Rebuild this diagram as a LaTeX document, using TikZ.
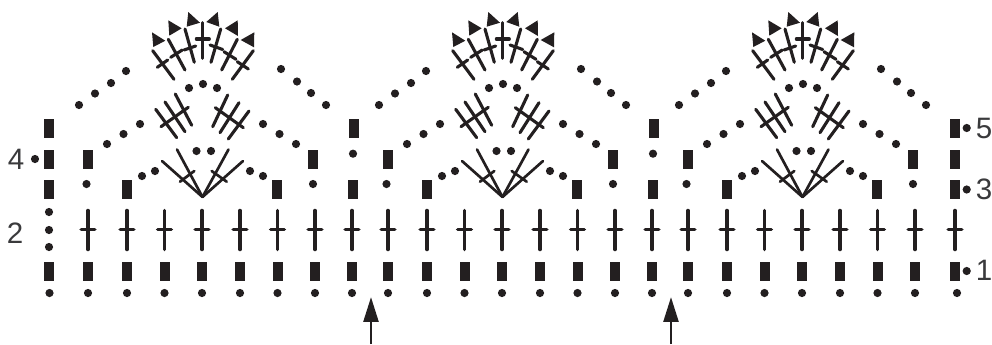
\documentclass[tikz,border=0pt]{standalone}
\usepackage{fontspec}
\setmainfont{Liberation Sans}
\usetikzlibrary{arrows.meta}
\definecolor{ink}{HTML}{231F20}
\definecolor{numgray}{HTML}{3A3A3C}

\begin{document}
\begin{tikzpicture}[x=0.025cm,y=-0.025cm,
      chdot/.style={fill=ink},
      post/.style={draw=ink,line width=2.5pt,line cap=round},
      fanline/.style={draw=ink,line width=2.2pt,line cap=round},
      thinfan/.style={draw=ink,line width=1.9pt,line cap=round},
      rownum/.style={font=\fontsize{21}{23}\selectfont,text=numgray,inner sep=0pt}]
    % pixel coordinates of the scan, y runs downwards
    \useasboundingbox (0,0) rectangle (992,344);

    % repeated motif, columns 1 to 7 of each pattern repeat
    \foreach \r in {0,300,600} {
      \begin{scope}[shift={(\r,0)}]
        % foundation chain + first row of bars
        \foreach \x in {88,127,164.5,202,240,277.5,315} {
          \fill[chdot] (\x,293) circle (4.1);
          \fill[ink] (\x-5,262) rectangle (\x+5,281);
          % row 2
          \draw[post] (\x,210.5) -- (\x,249.5);
          \draw[post] (\x-6.8,229.6) -- (\x+6.8,229.6);
        }
        % bars and single chains at the flanks
        \foreach \x/\y in {127/180,277/180,88/150,313/150} \fill[ink] (\x-5,\y) rectangle (\x+5,\y+19);
        \foreach \x/\y in {86.5/184,313/184} \fill[chdot] (\x,\y) circle (4.1);

        % chain loops, rows 3 to 5
        \foreach \x/\y in {142/176,155/171,250/171,263/176,196.5/151,211/151} \fill[chdot] (\x,\y) circle (4.1);
        \foreach \x/\y in {107/144,123.5/134,140/124,263/124,279.5/134,296/144,189/88,203/84,217/88} \fill[chdot] (\x,\y) circle (4.1);
        \foreach \x/\y in {79/105,95/93.5,111/83,126/71,281/69,297/81.5,311/93,326/105} \fill[chdot] (\x,\y) circle (4.1);

        % row 3 fan
        \foreach \x/\y in {162/161,177/149.5,228.5/149.5,243/161} \draw[thinfan] (202.5,197) -- (\x,\y);
        \draw[thinfan] (180,181.7) -- (194.3,171);
        \draw[thinfan] (211.7,171) -- (226.7,181.7);

        % row 4 clusters
        \draw[fanline] (155.7,109.3) -- (176.7,137.7);
        \draw[fanline] (165,102) -- (185,131.7);
        \draw[fanline] (175.3,94) -- (191.7,125.3);
        \draw[fanline] (161,126.7) -- (188.3,107.3);
        \draw[fanline] (227.7,95) -- (212.7,126.7);
        \draw[fanline] (239,102.7) -- (220,132.7);
        \draw[fanline] (249,111) -- (228.3,139);
        \draw[fanline] (215.3,107.7) -- (243.3,127.7);

        % row 5 shell: post, then its tick
        \foreach \xa/\ya/\xb/\yb/\xc/\yc/\xd/\yd in {
            152.7/50.7/174/79.3/157.3/67.3/167.7/60,
            168.3/39.3/185/70/170.7/57.3/182.3/50,
            185/29/194.3/62.3/184/50/195.7/46,
            202.7/22.7/202.7/58.3/196.3/39/209.3/39,
            220.7/29/211/62.3/210/45/222.7/49.5,
            237.3/39.3/221.7/70/224/51.7/236/59.3,
            253.3/50.7/232.3/79.3/237.3/61.7/248.3/69} {
          \draw[fanline] (\xa,\ya) -- (\xb,\yb);
          \draw[fanline] (\xc,\yc) -- (\xd,\yd);
        }

        % picots on top
        \fill[ink] (152,32.3) -- (165.3,40.7) -- (153.3,47) -- cycle;
        \fill[ink] (168.3,20.3) -- (181.7,28.3) -- (169.3,35.7) -- cycle;
        \fill[ink] (188.3,12) -- (200,22.7) -- (186.7,26.7) -- cycle;
        \fill[ink] (217.7,12) -- (219.3,26.7) -- (206.3,22) -- cycle;
        \fill[ink] (237.7,20.3) -- (238,36) -- (225,28.3) -- cycle;
        \fill[ink] (254.3,32.3) -- (254,47.3) -- (240.7,40) -- cycle;
      \end{scope}
    }

    % edge columns between the repeats
    \foreach \x in {352,652} {
      \fill[chdot] (\x,293) circle (4.1);
      \fill[ink] (\x-5,262) rectangle (\x+5,281);
      \draw[post] (\x,210.5) -- (\x,249.5);
      \draw[post] (\x-6.8,229.6) -- (\x+6.8,229.6);
      \fill[ink] (\x-4.5,180) rectangle (\x+5.5,199);
      \fill[chdot] (\x+1,153.7) circle (4.1);
      \fill[ink] (\x-3.5,119) rectangle (\x+6.5,138);
    }

    % first column
    \fill[chdot] (49.5,293) circle (4.1);
    \foreach \y in {119,150,180,262} \fill[ink] (44,\y) rectangle (54,\y+19);
    \foreach \y in {212,230,247} \fill[chdot] (49,\y) circle (4.1);

    % last column
    \fill[chdot] (957,293) circle (4.1);
    \foreach \y in {119,150,180,262} \fill[ink] (950,\y) rectangle (960,\y+19);
    \draw[post] (955,210.5) -- (955,249.5);
    \draw[post] (948.2,229.6) -- (961.8,229.6);

    % row numbers with their dots
    \node[rownum] (num4) at (16,159) {4};
    \node[rownum] (num2) at (15,233) {2};
    \node[rownum] (num5) at (984,128) {5};
    \node[rownum] (num3) at (984,189) {3};
    \node[rownum] (num1) at (984,270) {1};
    \foreach \x/\y in {35/159,966.7/128,966.7/189.5,966.7/271} \fill[chdot] (\x,\y) circle (4.1);

    % repeat arrows
    \foreach \x in {371,671} \draw[ink,line width=2pt,-{Triangle[length=17.6pt,width=10.5pt]}] (\x,344) -- (\x,297);
  \end{tikzpicture}
\end{document}
